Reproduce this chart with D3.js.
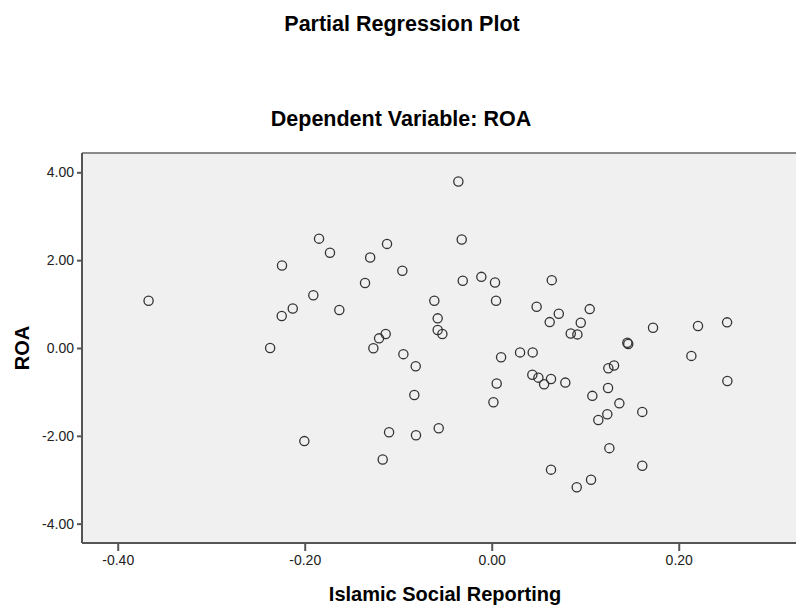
<!DOCTYPE html>
<html>
  <head>
    <meta charset="utf-8">
    <title>Partial Regression Plot</title>
    <script src="https://d3js.org/d3.v7.min.js"></script>
    <style>
      body { margin: 0; background: #ffffff; }
      svg { display: block; font-family: Arial, "Liberation Sans", sans-serif; }
    </style>
  </head>
  <body>
    <svg id="svg" width="796" height="605"></svg>
    <script>
// x = Islamic Social Reporting (residual), y = ROA (residual)
var isr = [-0.367, -0.2243, -0.2246, -0.2128, -0.237, -0.2004, -0.0357, -0.1847, -0.173, -0.130,
  -0.112, -0.0321, -0.0956, -0.1355, -0.031, -0.0111, 0.0035, 0.0046, -0.0614, -0.1908,
  -0.163, 0.048, -0.0578, -0.0578, -0.0528, -0.1134, -0.1205, -0.1266, -0.0945, 0.010,
  0.0303, 0.0438, -0.0813, 0.0053, 0.0434, 0.0018, -0.0828, -0.1098, -0.081, -0.0567,
  -0.1166, 0.0642, 0.0717, 0.062, 0.1048, 0.0952, 0.0845, 0.0916, 0.145, 0.146,
  0.1725, 0.2206, 0.2517, 0.2135, 0.0499, 0.056, 0.0634, 0.0787, 0.1247, 0.1308,
  0.1244, 0.1076, 0.1365, 0.1236, 0.114, 0.161, 0.252, 0.1258, 0.161, 0.0634,
  0.1062, 0.0909];
var roa = [1.075, 1.88, 0.727, 0.90, 0.0, -2.12, 3.79, 2.49, 2.17, 2.06,
  2.37, 2.47, 1.76, 1.48, 1.53, 1.62, 1.49, 1.075, 1.075, 1.20,
  0.864, 0.94, 0.675, 0.41, 0.318, 0.318, 0.22, -0.007, -0.14, -0.21,
  -0.10, -0.10, -0.417, -0.81, -0.61, -1.235, -1.07, -1.917, -1.985, -1.826,
  -2.54, 1.545, 0.78, 0.59, 0.886, 0.575, 0.33, 0.31, 0.12, 0.09,
  0.46, 0.50, 0.584, -0.18, -0.675, -0.826, -0.705, -0.788, -0.46, -0.40,
  -0.91, -1.09, -1.26, -1.51, -1.64, -1.455, -0.75, -2.28, -2.68, -2.77,
  -3.0, -3.17];
var xTicks = [-0.40, -0.20, 0.00, 0.20];
var yTicks = [4, 2, 0, -2, -4];

var plotLeft = 82, plotRight = 796, plotTop = 153, plotBottom = 543;

var x = d3.scaleLinear().domain([-0.4382, 0.3254]).range([plotLeft, plotRight]);
var y = d3.scaleLinear().domain([-4.44, 4.44]).range([plotBottom, plotTop]);

// SPSS prints a plain hyphen, not the unicode minus d3 uses
var fmt = function(d) { return d3.format('.2f')(d).replace('\u2212', '-'); };

var svg = d3.select('#svg');

// titles
svg.append('text')
  .attr('x', 402).attr('y', 31)
  .attr('text-anchor', 'middle')
  .style('font-size', '21.5px').style('font-weight', 'bold')
  .text('Partial Regression Plot');

svg.append('text')
  .attr('x', 401).attr('y', 126)
  .attr('text-anchor', 'middle')
  .style('font-size', '21.5px').style('font-weight', 'bold')
  .text('Dependent Variable: ROA');

// plot background
svg.append('rect')
  .attr('x', plotLeft).attr('y', plotTop)
  .attr('width', plotRight - plotLeft).attr('height', plotBottom - plotTop)
  .style('fill', '#f0f0f0');

// top border
svg.append('line')
  .attr('x1', plotLeft).attr('x2', plotRight)
  .attr('y1', plotTop).attr('y2', plotTop)
  .style('stroke', '#8a8a8a').style('stroke-width', 2);

// axes
var yAxis = d3.axisLeft(y).tickValues(yTicks).tickSize(5).tickPadding(3).tickFormat(fmt);
var xAxis = d3.axisBottom(x).tickValues(xTicks).tickSize(8).tickPadding(4).tickFormat(fmt);

var gy = svg.append('g').attr('transform', 'translate(' + plotLeft + ',0)').call(yAxis);
var gx = svg.append('g').attr('transform', 'translate(0,' + plotBottom + ')').call(xAxis);

[gx, gy].forEach(function(g) {
  g.attr('font-family', 'Arial, "Liberation Sans", sans-serif').attr('font-size', 14);
  g.select('.domain').style('stroke', '#555').style('stroke-width', 2);
  g.selectAll('.tick line').style('stroke', '#555').style('stroke-width', 2);
  g.selectAll('.tick text').style('fill', '#222');
});
gx.select('.domain').attr('d', 'M' + plotLeft + ',0H' + plotRight);
gy.select('.domain').attr('d', 'M0,' + plotTop + 'V' + plotBottom);

// points
svg.append('g').selectAll('circle')
  .data(isr.map(function(d, i) { return [d, roa[i]]; }))
  .enter()
  .append('circle')
  .attr('cx', function(d) { return x(d[0]); })
  .attr('cy', function(d) { return y(d[1]); })
  .attr('r', 4.6)
  .style('fill', 'none')
  .style('stroke', '#333')
  .style('stroke-width', 1.3);

// axis labels
svg.append('text')
  .attr('x', 445).attr('y', 601)
  .attr('text-anchor', 'middle')
  .style('font-size', '20px').style('font-weight', 'bold')
  .text('Islamic Social Reporting');

svg.append('text')
  .attr('transform', 'translate(29,348) rotate(-90)')
  .attr('text-anchor', 'middle')
  .style('font-size', '20px').style('font-weight', 'bold')
  .text('ROA');
    </script>
  </body>
</html>
